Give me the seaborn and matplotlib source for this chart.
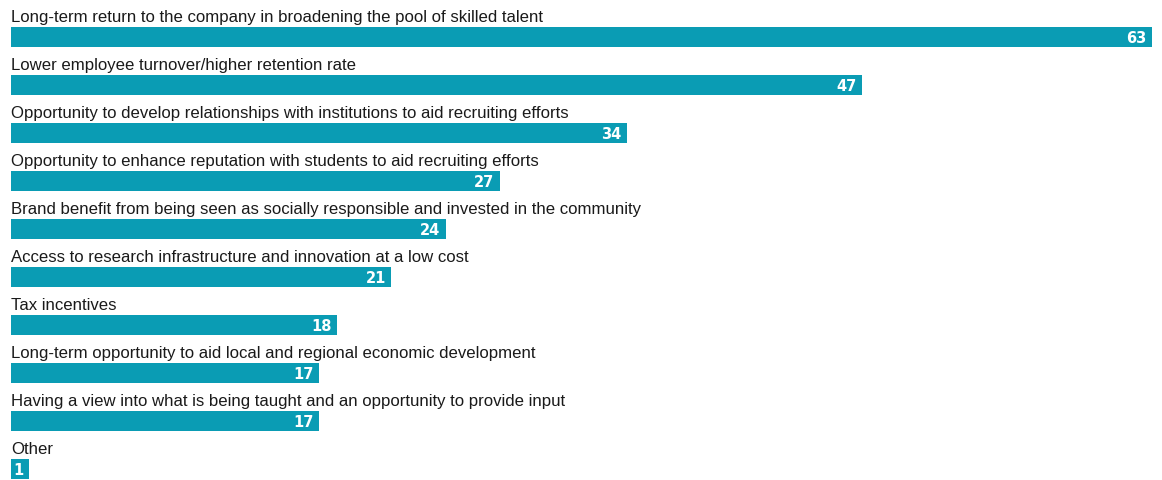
import numpy as np
import pandas as pd
import matplotlib.pyplot as plt
import seaborn as sns

# 데이터
categories = [
    'Long-term return to the company in broadening the pool of skilled talent',
    'Lower employee turnover/higher retention rate',
    'Opportunity to develop relationships with institutions to aid recruiting efforts',
    'Opportunity to enhance reputation with students to aid recruiting efforts',
    'Brand benefit from being seen as socially responsible and invested in the community',
    'Access to research infrastructure and innovation at a low cost',
    'Tax incentives',
    'Long-term opportunity to aid local and regional economic development',
    'Having a view into what is being taught and an opportunity to provide input',
    'Other',
]
values = [63, 47, 34, 27, 24, 21, 18, 17, 17, 1]

df = pd.DataFrame({'category': categories, 'value': values})

sns.set_style('white')
plt.rcParams['font.family'] = ['Liberation Sans Narrow', 'Liberation Sans', 'DejaVu Sans']

fig = plt.figure(figsize=(11.62, 4.81), dpi=100)
ax = fig.add_axes([11 / 1162, 0, 1141 / 1162, 1])

bar_h = 20 / 48
sns.barplot(data=df, x='value', y='category', orient='h', color='#0a9cb4',
            saturation=1, width=bar_h, linewidth=0, ax=ax)

# 막대 위 라벨, 막대 안 값
for i, (cat, v) in enumerate(zip(categories, values)):
    ax.text(0, i - 0.33, cat, ha='left', va='baseline', fontsize=12.1, color='#1a1a1a')
    ax.text(v - 0.3, i + 0.02, str(v), ha='right', va='center', fontsize=10.5,
            fontweight='bold', color='white', family=['DejaVu Sans'])

ax.set_xlim(0, 63)
ax.set_ylim((481 - 38) / 48, -38 / 48)
ax.set_xlabel('')
ax.set_ylabel('')
ax.set_xticks([])
ax.set_yticks([])
sns.despine(ax=ax, left=True, bottom=True)

fig.savefig('out.png', dpi=100)
